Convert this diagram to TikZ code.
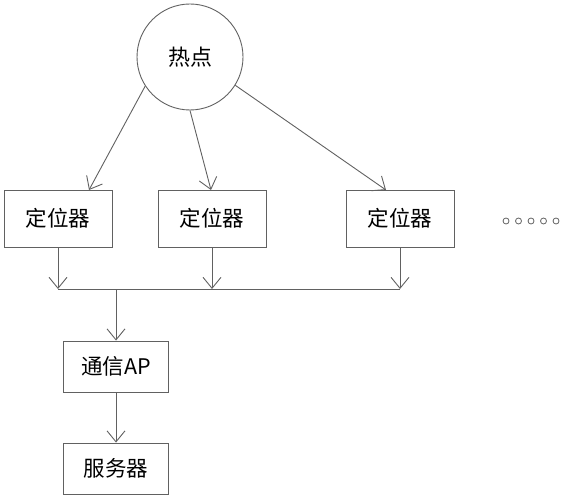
\documentclass[tikz,border=0pt]{standalone}
\usepackage{fontspec}
\newfontfamily\cjk{Noto Sans CJK SC}
\usetikzlibrary{arrows.meta}
\definecolor{linegray}{gray}{0.38}
\begin{document}
\begin{tikzpicture}[x=1pt,y=-1pt,line width=0.9pt,
  box/.style={draw=linegray,rectangle,inner sep=0pt,minimum width=108pt,minimum height=57pt,font=\cjk\fontsize{21.5}{21.5}\selectfont},
  smallbox/.style={box,minimum width=105pt,minimum height=51pt},
  hotspot/.style={draw=linegray,circle,inner sep=0pt,minimum size=106pt,font=\cjk\fontsize{22}{22}\selectfont},
  arr/.style={draw=linegray,-{Straight Barb[length=11pt,width=18pt,line width=0.9pt]}},
  plain/.style={draw=linegray},
  dot/.style={draw=linegray,circle,inner sep=0pt,minimum size=6pt,line width=0.8pt}]
\useasboundingbox (0,0) rectangle (564,500);
\node[hotspot] (hot) at (190,57) {热点};
\node[box] (l1) at (58,218.5) {定位器};
\node[box] (l2) at (212,218.5) {定位器};
\node[box] (l3) at (400,218.5) {定位器};
\node[smallbox] (ap) at (116,366.5) {通信AP};
\node[smallbox] (srv) at (116,468.5) {服务器};
\foreach \i/\x in {1/506,2/518.5,3/531,4/543.5,5/556}
  \node[dot] (d\i) at (\x,221) {};
\coordinate (t1) at (89,190);
\coordinate (t2) at (211,190);
\coordinate (t3) at (386,190);
\coordinate (bus) at (116,289);
\draw[arr] (hot.213) -- (t1);
\draw[arr] (hot.south) -- (t2);
\draw[arr] (hot.328) -- (t3);
\draw[arr] (l1.south) -- (l1.south |- bus);
\draw[arr] (l2.south) -- (l2.south |- bus);
\draw[arr] (l3.south) -- (l3.south |- bus);
\draw[plain] (l1.south |- bus) -- (l3.south |- bus);
\draw[arr] (bus) -- (ap.north);
\draw[arr] (ap.south) -- (srv.north);
\end{tikzpicture}
\end{document}
